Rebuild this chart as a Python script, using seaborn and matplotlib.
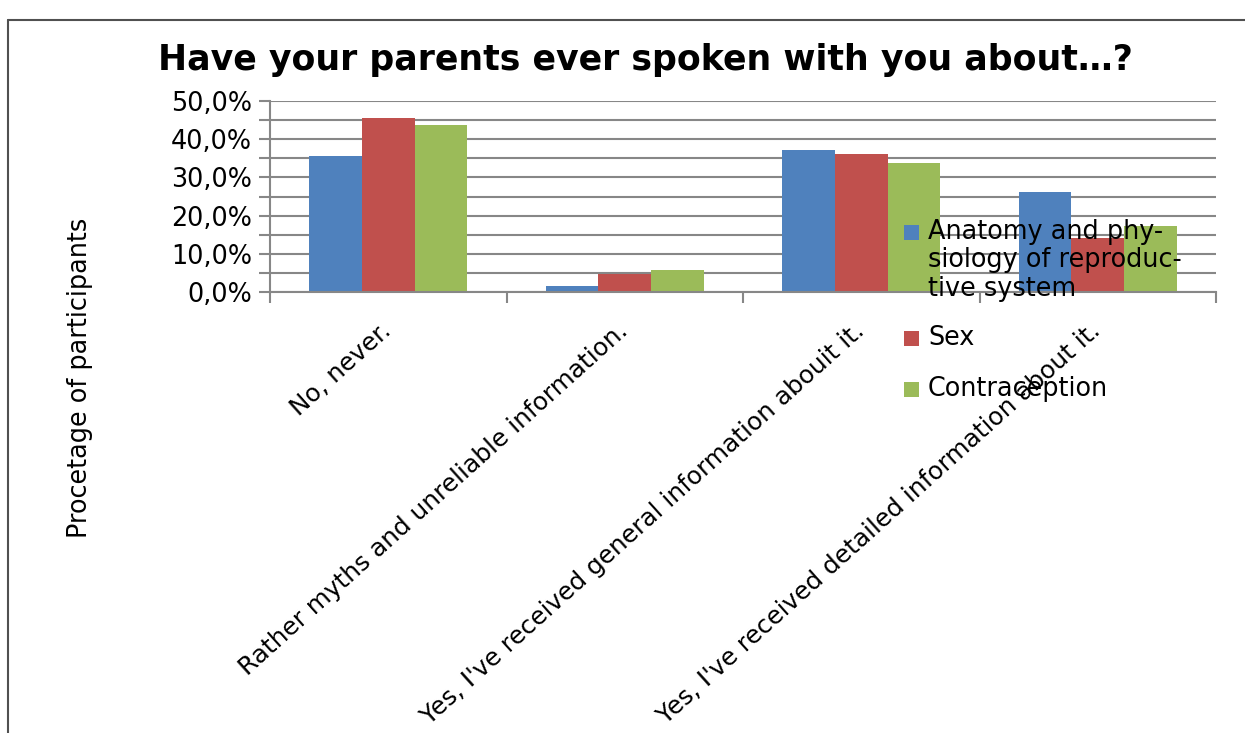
import matplotlib
matplotlib.use("Agg")
import matplotlib.pyplot as plt
import matplotlib.transforms as mtransforms
import seaborn as sns
import pandas as pd
import numpy as np
from matplotlib.lines import Line2D
from matplotlib.patches import Rectangle
from matplotlib.ticker import MultipleLocator, FuncFormatter

categories = [
    "No, never.",
    "Rather myths and unreliable information.",
    "Yes, I've received general information abouit it.",
    "Yes, I've received detailed information about it.",
]
series_names = ["Anatomy and phy-\nsiology of reproduc-\ntive system", "Sex", "Contraception"]
anatomy = [35.5, 1.5, 37.1, 26.1]
sex = [45.5, 4.7, 36.0, 14.1]
contraception = [43.6, 5.7, 33.9, 17.2]
colors = ["#4F81BD", "#C0504D", "#9BBB59"]

title = "Have your parents ever spoken with you about\u2026?"
ylabel = "Procetage of participants"

rows = []
for name, vals in zip(series_names, [anatomy, sex, contraception]):
    for c, v in zip(categories, vals):
        rows.append({"category": c, "series": name, "value": v})
df = pd.DataFrame(rows)

sns.set_theme(style="white")
plt.rcParams["font.family"] = ["DejaVu Sans"]
plt.rcParams["text.color"] = "black"

FS = 18.4

fig = plt.figure(figsize=(12.45, 7.33), dpi=100)
ax = fig.add_axes([270/1245, 1-292/733, (1216-270)/1245, (292-101)/733])

sns.barplot(data=df, x="category", y="value", hue="series", order=categories,
            hue_order=series_names, palette=colors, saturation=1, width=0.666,
            ax=ax, legend=False, linewidth=0, edgecolor="none")

grid_c = "#878787"
ax.set_ylim(0, 50)
ax.set_xlim(-0.5, 3.5)
ax.yaxis.set_major_locator(MultipleLocator(10))
ax.yaxis.set_minor_locator(MultipleLocator(5))
ax.yaxis.set_major_formatter(FuncFormatter(lambda v, p: f"{v:.1f}%".replace(".", ",")))
ax.grid(True, axis="y", which="both", color=grid_c, linewidth=1.5, zorder=0)
ax.set_axisbelow(True)
for s in ["top", "right"]:
    ax.spines[s].set_visible(False)
for s in ["left", "bottom"]:
    ax.spines[s].set_color(grid_c)
    ax.spines[s].set_linewidth(1.5)

ax.tick_params(axis="y", which="both", left=True, length=8, width=1.5, color=grid_c,
               labelsize=FS, pad=5, labelcolor="black")
ax.set_xticks(np.arange(-0.5, 3.6, 1.0), minor=True)
ax.tick_params(axis="x", which="minor", bottom=True, length=8, width=1.5, color=grid_c)
ax.tick_params(axis="x", which="major", bottom=False, length=0, labelsize=17.8, pad=29,
               labelcolor="black")
ax.set_xticklabels(categories, rotation=42, ha="right", va="baseline",
                   rotation_mode="anchor")
shift = mtransforms.ScaledTranslation(4/100, 0, fig.dpi_scale_trans)
for lab in ax.get_xticklabels():
    lab.set_transform(lab.get_transform() + shift)
ax.set_xlabel("")
ax.set_ylabel("")

fig.text(645/1245, 1-60/733, title, ha="center", va="center", fontsize=25,
         fontweight="bold", color="black")
fig.text(80/1245, 1-378/733, ylabel, ha="center", va="center", rotation=90,
         fontsize=FS, color="black")

# legend (manual, transparent, overlapping the plot like the original)
leg_x = 904/1245
txt_x = 928/1245
leg_y = [232, 338, 389]
sq = 15
for y, name, col in zip(leg_y, series_names, colors):
    fig.add_artist(Rectangle((leg_x, 1-(y+sq/2)/733), sq/1245, sq/733,
                             transform=fig.transFigure, facecolor=col, edgecolor="none"))
    fig.text(txt_x, 1-(y-13)/733, name, ha="left", va="top", fontsize=FS,
             linespacing=1.12, color="black")

# outer frame lines
fig.add_artist(Line2D([8/1245, 8/1245], [0, 1-20/733], transform=fig.transFigure,
                      color="#505050", linewidth=1.5))
fig.add_artist(Line2D([8/1245, 1], [1-20/733, 1-20/733], transform=fig.transFigure,
                      color="#505050", linewidth=1.5))

fig.savefig("out.png", dpi=100, facecolor="white")
